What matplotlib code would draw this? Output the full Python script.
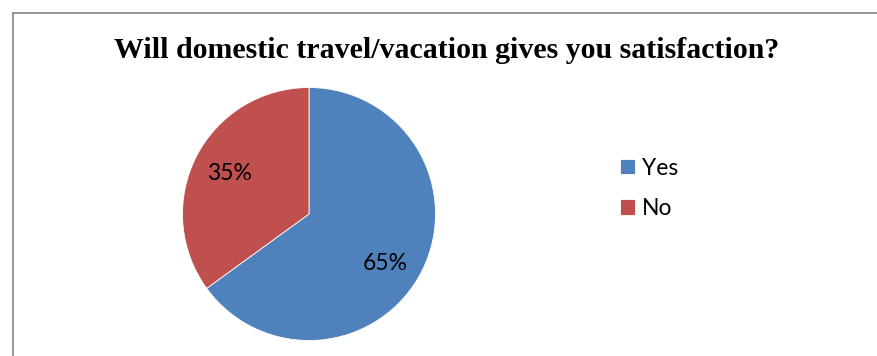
import matplotlib
matplotlib.use("Agg")
import matplotlib.pyplot as plt
from matplotlib.lines import Line2D

# survey answers
answers = ["Yes", "No"]
shares = [65, 35]
colors = ["#4F81BD", "#C0504D"]

W, H = 877, 356
fig = plt.figure(figsize=(W / 100, H / 100), dpi=100)
fig.patch.set_facecolor("white")

# chart frame (left and top edges are visible)
border = "#8c8c8c"
fig.add_artist(Line2D([12.5 / W, 12.5 / W], [0, 1 - 12.5 / H], color=border, lw=1.3))
fig.add_artist(Line2D([12.5 / W, 1], [1 - 12.5 / H, 1 - 12.5 / H], color=border, lw=1.3))

fig.text(447 / W, 1 - 50 / H, "Will domestic travel/vacation gives you satisfaction?",
         ha="center", va="center", fontsize=21.5, fontweight="bold",
         family="Liberation Serif")

# pie centred at (309, 214) px, radius 126.5 px
cx, cy, r = 309, 214, 126.5
ax = fig.add_axes([(cx - r) / W, (H - cy - r) / H, 2 * r / W, 2 * r / H])
wedges, texts, autotexts = ax.pie(
    shares, colors=colors, startangle=90, counterclock=False,
    autopct="%d%%", pctdistance=0.71, radius=1,
    wedgeprops=dict(linewidth=0.6, edgecolor="white"),
    textprops=dict(fontsize=16.5, family="Lato", color="black"))
# the larger slice's label sits a little lower inside its wedge
px, py = autotexts[0].get_position()
autotexts[0].set_position((px - 0.03, py - 0.07))
ax.set_xlim(-1, 1)
ax.set_ylim(-1, 1)
ax.set_aspect("equal")
ax.axis("off")

fig.legend(wedges, answers, loc="upper left",
           bbox_to_anchor=(599 / W, 1 - 137 / H), frameon=False,
           prop=dict(family="Lato", size=16.5), handlelength=0.68,
           handleheight=0.66, handletextpad=0.3, labelspacing=0.85)

fig.savefig("out.png", dpi=100)
